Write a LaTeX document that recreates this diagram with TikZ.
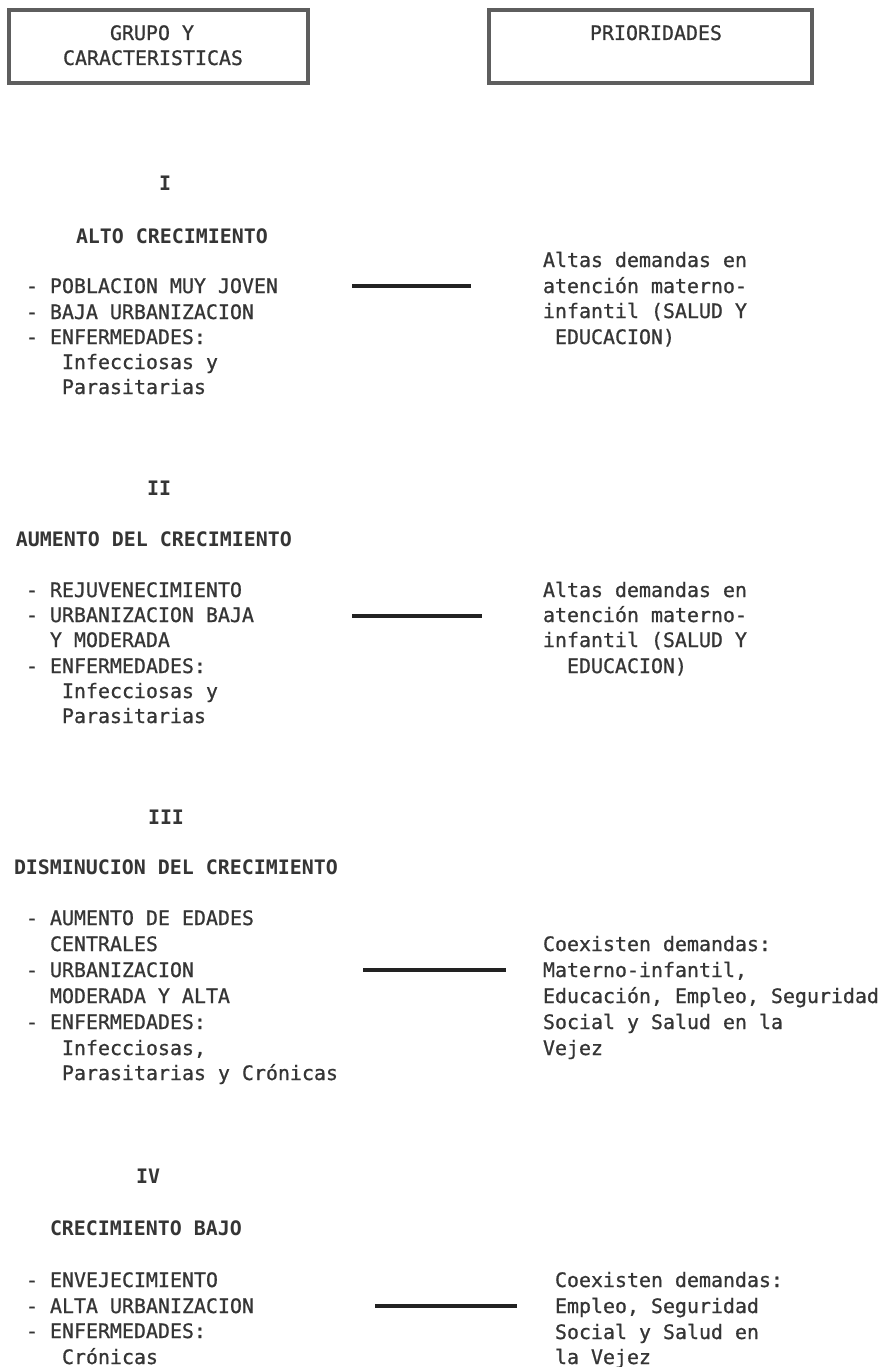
\documentclass[tikz,border=0pt]{standalone}
\usepackage{fontspec}
\newfontfamily\dmono[FakeBold=0.8]{DejaVu Sans Mono}
\newfontfamily\dmonob{DejaVu Sans Mono Bold}
\definecolor{ink}{HTML}{353535}
\definecolor{boxgray}{HTML}{5E5E5E}
\definecolor{rulec}{HTML}{222222}
\tikzset{
  txt/.style={anchor=base west, inner sep=0pt, outer sep=0pt, text=ink, font=\dmono\fontsize{19.93}{24}\selectfont},
  ttl/.style={txt, font=\dmonob\fontsize{19.93}{24}\selectfont},
  num/.style={ttl, anchor=base},
  ctr/.style={txt, anchor=base},
  hbox/.style={draw=boxgray, line width=4pt, inner sep=0pt, minimum height=73pt},
  conn/.style={draw=rulec, line width=3.2pt},
}
\begin{document}
\begin{tikzpicture}[x=1pt,y=-1pt]
\useasboundingbox (0,0) rectangle (880,1367);
\fill[white] (0,0) rectangle (880,1367);
% header boxes
\node[hbox, minimum width=299pt] (hb1) at (158.5,46.5) {};
\node[hbox, minimum width=323pt] (hb2) at (650.5,46.5) {};
\node[ctr] (h1a) at (152,40) {GRUPO Y};
\node[ctr] (h1b) at (153,65) {CARACTERISTICAS};
\node[ctr] (h2a) at (656,40) {PRIORIDADES};

% ---------- I ----------
\node[num] (n1) at (165,191) {I};
\node[ttl] (t1) at (76,243) {ALTO CRECIMIENTO};
\node[txt] (a1) at (26,293) {- POBLACION MUY JOVEN};
\node[txt] (a2) at (26,319) {- BAJA URBANIZACION};
\node[txt] (a3) at (26,344) {- ENFERMEDADES:};
\node[txt] (a4) at (62,369) {Infecciosas y};
\node[txt] (a5) at (62,394) {Parasitarias};
\node[txt] (r1a) at (543,267) {Altas demandas en};
\node[txt] (r1b) at (543,293) {atención materno-};
\node[txt] (r1c) at (543,318) {infantil (SALUD Y};
\node[txt] (r1d) at (555,344) {EDUCACION)};
\coordinate (c1a) at (352,286);
\coordinate (c1b) at (471,286);
\draw[conn] (c1a) -- (c1b);

% ---------- II ----------
\node[num] (n2) at (159,495) {II};
\node[ttl] (t2) at (16,546) {AUMENTO DEL CRECIMIENTO};
\node[txt] (b1) at (26,597) {- REJUVENECIMIENTO};
\node[txt] (b2) at (26,622) {- URBANIZACION BAJA};
\node[txt] (b3) at (50,647) {Y MODERADA};
\node[txt] (b4) at (26,673) {- ENFERMEDADES:};
\node[txt] (b5) at (62,698) {Infecciosas y};
\node[txt] (b6) at (62,723) {Parasitarias};
\node[txt] (r2a) at (543,597) {Altas demandas en};
\node[txt] (r2b) at (543,622) {atención materno-};
\node[txt] (r2c) at (543,647) {infantil (SALUD Y};
\node[txt] (r2d) at (567,673) {EDUCACION)};
\coordinate (c2a) at (352,616);
\coordinate (c2b) at (482,616);
\draw[conn] (c2a) -- (c2b);

% ---------- III ----------
\node[num] (n3) at (166,824) {III};
\node[ttl] (t3) at (14,874) {DISMINUCION DEL CRECIMIENTO};
\node[txt] (d1) at (26,925) {- AUMENTO DE EDADES};
\node[txt] (d2) at (50,951) {CENTRALES};
\node[txt] (d3) at (26,977) {- URBANIZACION};
\node[txt] (d4) at (50,1003) {MODERADA Y ALTA};
\node[txt] (d5) at (26,1029) {- ENFERMEDADES:};
\node[txt] (d6) at (62,1055) {Infecciosas,};
\node[txt] (d7) at (62,1080) {Parasitarias y Crónicas};
\node[txt] (r3a) at (543,951) {Coexisten demandas:};
\node[txt] (r3b) at (543,977) {Materno-infantil,};
\node[txt] (r3c) at (543,1003) {Educación, Empleo, Seguridad};
\node[txt] (r3d) at (543,1029) {Social y Salud en la};
\node[txt] (r3e) at (543,1055) {Vejez};
\coordinate (c3a) at (363,970);
\coordinate (c3b) at (506,970);
\draw[conn] (c3a) -- (c3b);

% ---------- IV ----------
\node[num] (n4) at (148,1183) {IV};
\node[ttl] (t4) at (50,1235) {CRECIMIENTO BAJO};
\node[txt] (e1) at (26,1287) {- ENVEJECIMIENTO};
\node[txt] (e2) at (26,1313) {- ALTA URBANIZACION};
\node[txt] (e3) at (26,1338) {- ENFERMEDADES:};
\node[txt] (e4) at (62,1364) {Crónicas};
\node[txt] (r4a) at (555,1287) {Coexisten demandas:};
\node[txt] (r4b) at (555,1313) {Empleo, Seguridad};
\node[txt] (r4c) at (555,1339) {Social y Salud en};
\node[txt] (r4d) at (555,1364) {la Vejez};
\coordinate (c4a) at (375,1306);
\coordinate (c4b) at (517,1306);
\draw[conn] (c4a) -- (c4b);
\end{tikzpicture}
\end{document}
